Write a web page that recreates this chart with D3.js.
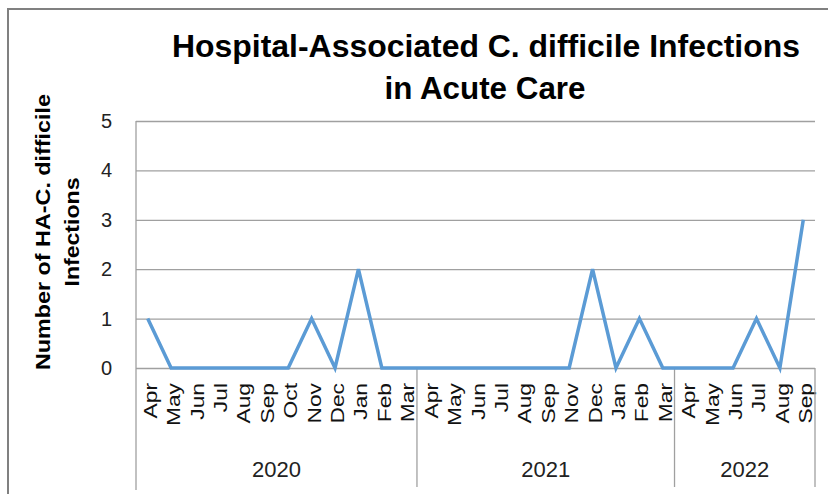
<!DOCTYPE html>
<html>
<head>
<meta charset="utf-8">
<script src="https://cdn.jsdelivr.net/npm/d3@7"></script>
<style>
  body { margin: 0; background: #fff; }
  svg { display: block; font-family: "Liberation Sans", Arial, sans-serif; }
</style>
</head>
<body>
<svg id="chart"></svg>
<script>
// chart data
const years = ["2020", "2021", "2022"];
const months2020 = ["Apr", "May", "Jun", "Jul", "Aug", "Sep", "Oct", "Nov", "Dec", "Jan", "Feb", "Mar"];
const months2021 = ["Apr", "May", "Jun", "Jul", "Aug", "Sep", "Nov", "Dec", "Jan", "Feb", "Mar"];
const months2022 = ["Apr", "May", "Jun", "Jul", "Aug", "Sep"];
const values2020 = [1, 0, 0, 0, 0, 0, 0, 1, 0, 2, 0, 0];
const values2021 = [0, 0, 0, 0, 0, 0, 0, 2, 0, 1, 0];
const values2022 = [0, 0, 0, 1, 0, 3];
const yTicks = [0, 1, 2, 3, 4, 5];

const svgWidth = 828;
const svgHeight = 494;
const plot = { left: 136, right: 815, top: 121, bottom: 368 };

// flatten into one row per month
const monthsByYear = [months2020, months2021, months2022];
const valuesByYear = [values2020, values2021, values2022];
let dataset = [];
years.forEach(function (yr, i) {
    monthsByYear[i].forEach(function (m, j) {
        dataset.push({ key: yr + "-" + m, year: yr, month: m, value: valuesByYear[i][j] });
    });
});

let scaleX = d3.scaleBand().domain(dataset.map(d => d.key)).range([plot.left, plot.right]).padding(0);
let scaleY = d3.scaleLinear().domain([0, 5]).range([plot.bottom, plot.top]);

let svg = d3.select("#chart")
    .attr("width", svgWidth)
    .attr("height", svgHeight);

// outer frame (only left/top visible in the picture)
svg.append("path")
    .attr("d", "M8,494 L8,9 L828,9")
    .attr("fill", "none")
    .attr("stroke", "#808080")
    .attr("stroke-width", 2);

// title
svg.append("text")
    .attr("x", 486).attr("y", 57)
    .attr("text-anchor", "middle")
    .attr("font-weight", "bold")
    .attr("font-size", 31)
    .attr("textLength", 628)
    .attr("lengthAdjust", "spacingAndGlyphs")
    .text("Hospital-Associated C. difficile  Infections");
svg.append("text")
    .attr("x", 485).attr("y", 99)
    .attr("text-anchor", "middle")
    .attr("font-weight", "bold")
    .attr("font-size", 31)
    .attr("textLength", 201)
    .attr("lengthAdjust", "spacingAndGlyphs")
    .text("in Acute Care");

// y axis with gridlines
let yAxis = svg.append("g")
    .attr("transform", "translate(" + plot.left + ",0)")
    .call(d3.axisLeft(scaleY).tickValues(yTicks).tickFormat(d3.format("d"))
        .tickSize(-(plot.right - plot.left)).tickPadding(24));
yAxis.select(".domain").remove();
yAxis.selectAll(".tick line").attr("stroke", "#a0a0a0").attr("stroke-width", 1.3);
yAxis.selectAll(".tick text")
    .attr("font-size", 20)
    .attr("fill", "#222")
    .attr("font-family", "Liberation Sans, Arial, sans-serif");

// left axis line
svg.append("line")
    .attr("x1", plot.left).attr("x2", plot.left)
    .attr("y1", plot.top).attr("y2", 490)
    .attr("stroke", "#a0a0a0").attr("stroke-width", 1.3);

// y axis title (two lines)
svg.append("text")
    .attr("transform", "translate(50,232) rotate(-90)")
    .attr("text-anchor", "middle")
    .attr("font-weight", "bold")
    .attr("font-size", 20)
    .attr("textLength", 276)
    .attr("lengthAdjust", "spacingAndGlyphs")
    .text("Number of HA-C. difficile");
svg.append("text")
    .attr("transform", "translate(79,232) rotate(-90)")
    .attr("text-anchor", "middle")
    .attr("font-weight", "bold")
    .attr("font-size", 20)
    .attr("textLength", 109)
    .attr("lengthAdjust", "spacingAndGlyphs")
    .text("Infections");

// month labels
svg.append("g")
    .selectAll("text")
    .data(dataset)
    .enter()
    .append("text")
    .attr("transform", d => "translate(" + (scaleX(d.key) + scaleX.bandwidth() / 2 + 9) + ",383) rotate(-90) scale(1.2,1)")
    .attr("text-anchor", "end")
    .attr("font-size", 19)
    .attr("fill", "#111")
    .text(d => d.month);

// year groups: separators and labels
let groupEdges = [];
years.forEach(function (yr, i) {
    let keys = dataset.filter(d => d.year == yr).map(d => d.key);
    let x0 = scaleX(keys[0]);
    let x1 = scaleX(keys[keys.length - 1]) + scaleX.bandwidth();
    groupEdges.push(x1);
    svg.append("text")
        .attr("x", (x0 + x1) / 2)
        .attr("y", 477)
        .attr("text-anchor", "middle")
        .attr("font-size", 22)
        .attr("fill", "#222")
        .text(yr);
});
svg.append("g")
    .selectAll("line")
    .data(groupEdges)
    .enter()
    .append("line")
    .attr("x1", d => d).attr("x2", d => d)
    .attr("y1", plot.bottom).attr("y2", 487)
    .attr("stroke", "#a0a0a0").attr("stroke-width", 1.3);

// the series line
let line = d3.line()
    .x(d => scaleX(d.key) + scaleX.bandwidth() / 2)
    .y(d => scaleY(d.value));
svg.append("path")
    .datum(dataset)
    .attr("d", line)
    .attr("fill", "none")
    .attr("stroke", "#5b9bd5")
    .attr("stroke-width", 3.5)
    .attr("stroke-linejoin", "miter");
</script>
</body>
</html>
